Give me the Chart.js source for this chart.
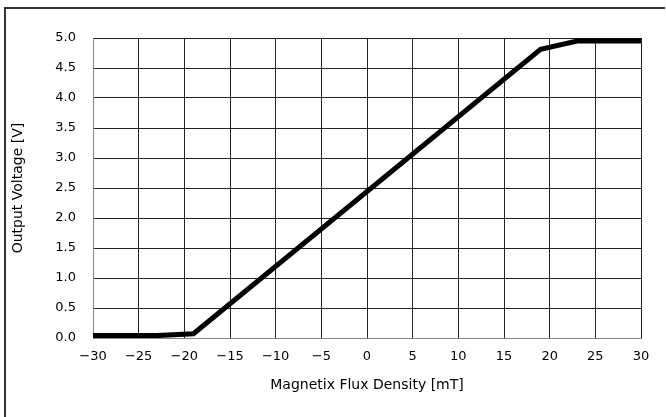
<!DOCTYPE html>
<html>
<head>
<meta charset="utf-8">
<script src="https://cdn.jsdelivr.net/npm/chart.js@4"></script>
<style>
  html, body { margin: 0; padding: 0; background: #fff; }
  #wrap { width: 666px; height: 417px; }
</style>
</head>
<body>
<div id="wrap"><canvas id="chart"></canvas></div>
<script>
// values
const fluxDensity = [-30, -23, -19, 19, 23, 30];          // mT
const outputVoltage = [0.04, 0.04, 0.07, 4.81, 4.95, 4.95]; // V
const xTickLabels = ["\u221230", "\u221225", "\u221220", "\u221215", "\u221210", "\u22125", "0", "5", "10", "15", "20", "25", "30"];
const xTickValues = [-30, -25, -20, -15, -10, -5, 0, 5, 10, 15, 20, 25, 30];

const FONT = "'DejaVu Sans', sans-serif";

// outer frame: only top and left edges are drawn in the reference
const framePlugin = {
  id: "frame",
  beforeDraw(chart) {
    const ctx = chart.ctx;
    ctx.save();
    ctx.strokeStyle = "#333";
    ctx.lineWidth = 2;
    ctx.beginPath();
    ctx.moveTo(665, 8);
    ctx.lineTo(5, 8);
    ctx.lineTo(5, 417);
    ctx.stroke();
    ctx.restore();
  }
};

new Chart(document.getElementById("chart"), {
  type: "line",
  data: {
    datasets: [{
      data: fluxDensity.map((x, i) => ({ x: x, y: outputVoltage[i] })),
      borderColor: "#000",
      borderWidth: 5,
      pointRadius: 0,
      tension: 0,
      fill: false
    }]
  },
  options: {
    responsive: true,
    maintainAspectRatio: false,
    animation: false,
    layout: { padding: { left: 0, top: 38, right: 25, bottom: 0 } },
    plugins: {
      legend: { display: false },
      tooltip: { enabled: false }
    },
    scales: {
      x: {
        type: "linear",
        min: -30,
        max: 30,
        afterBuildTicks(scale) {
          scale.ticks = xTickValues.map(v => ({ value: v }));
        },
        afterFit(scale) { scale.height = 79; },
        grid: { color: "#222", lineWidth: 1, drawTicks: false },
        border: { color: "#888", width: 1 },
        ticks: {
          color: "#000",
          font: { family: FONT, size: 13 },
          padding: 11,
          maxRotation: 0,
          callback: (v) => xTickLabels[xTickValues.indexOf(v)]
        },
        title: {
          display: true,
          text: "Magnetix Flux Density [mT]",
          color: "#000",
          font: { family: FONT, size: 14 },
          padding: { top: 0, bottom: 23 }
        }
      },
      y: {
        min: 0,
        max: 5,
        afterFit(scale) { scale.width = 93; },
        grid: { color: "#222", lineWidth: 1, drawTicks: false },
        border: { color: "#888", width: 1 },
        ticks: {
          stepSize: 0.5,
          color: "#000",
          font: { family: FONT, size: 13 },
          padding: 17,
          callback: (v) => v.toFixed(1)
        },
        title: {
          display: true,
          text: "Output Voltage [V]",
          color: "#000",
          font: { family: FONT, size: 14 },
          padding: { top: 10, bottom: 0 }
        }
      }
    }
  },
  plugins: [framePlugin]
});
</script>
</body>
</html>
